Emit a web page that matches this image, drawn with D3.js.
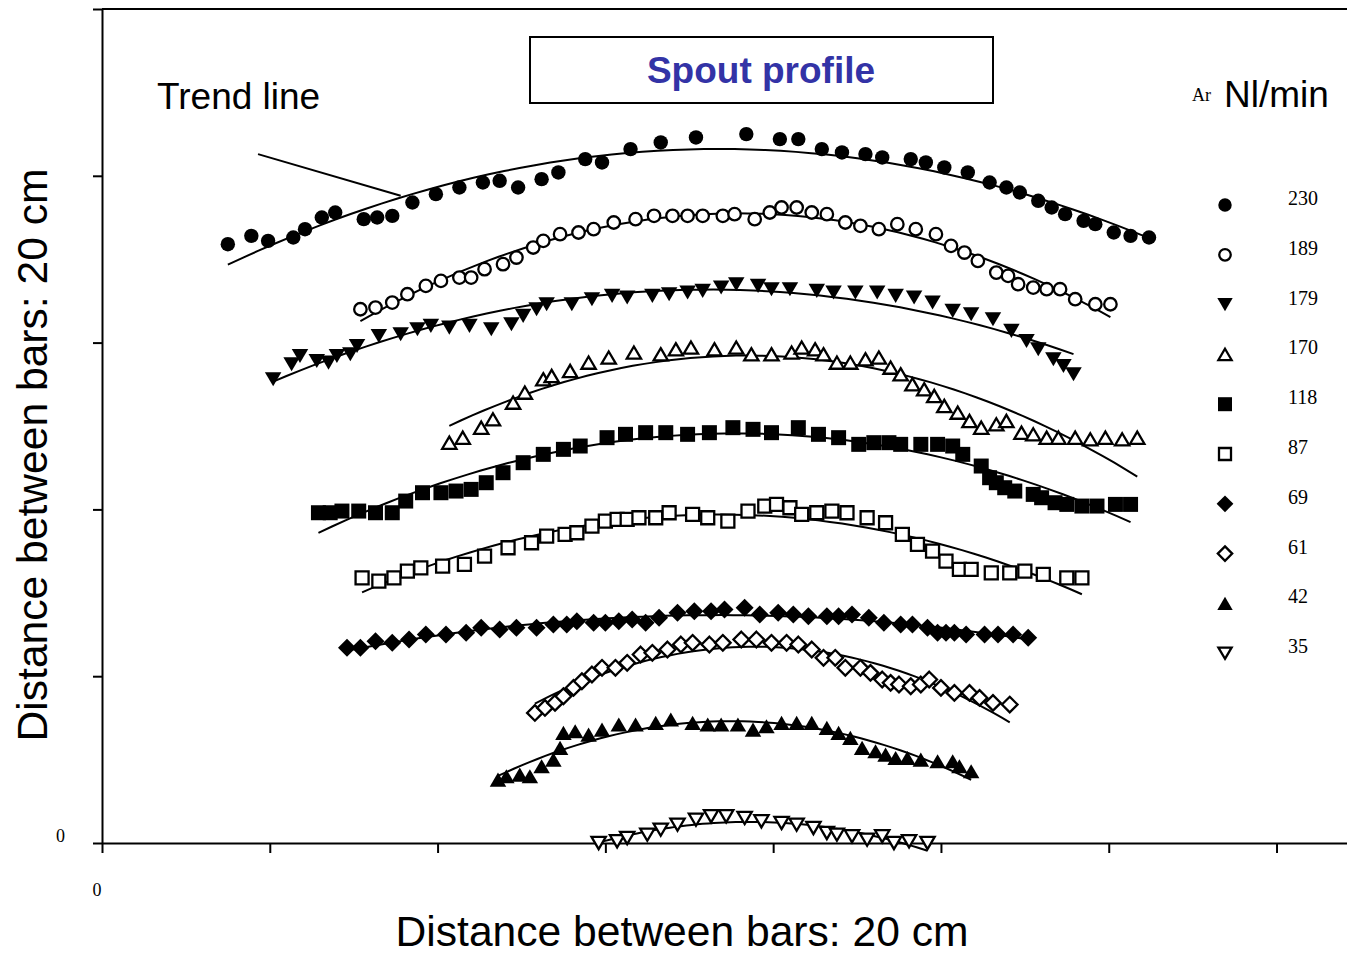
<!DOCTYPE html>
<html lang="en">
<head>
<meta charset="UTF-8">
<script src="https://d3js.org/d3.v7.min.js"></script>
<style>
    body { margin: 0; background: #fff; }
    .sans { font-family: "Liberation Sans", Arial, sans-serif; }
    .serif { font-family: "Liberation Serif", "Times New Roman", serif; }
</style>
</head>
<body>
<div id="chart"></div>
<script>
// Values; one axis tick = one unit (20 cm)
const seriesNames = ["230", "189", "179", "170", "118", "87", "69", "61", "42", "35"];

const x230 = [0.75,0.89,0.99,1.14,1.21,1.31,1.39,1.56,1.64,1.73,1.85,1.99,2.13,2.27,2.37,2.48,2.62,2.72,2.88,2.98,3.15,3.33,3.54,3.84,4.04,4.15,4.29,4.41,4.55,4.65,4.82,4.91,5.02,5.16,5.29,5.39,5.47,5.58,5.66,5.74,5.85,5.92,6.03,6.13,6.24];
const y230 = [3.59,3.64,3.61,3.63,3.68,3.75,3.78,3.74,3.75,3.76,3.84,3.89,3.93,3.96,3.97,3.93,3.98,4.02,4.10,4.08,4.16,4.20,4.23,4.25,4.22,4.22,4.16,4.14,4.13,4.11,4.10,4.08,4.05,4.02,3.96,3.93,3.90,3.85,3.81,3.77,3.73,3.71,3.66,3.64,3.63];

const x189 = [1.54,1.63,1.73,1.82,1.93,2.02,2.13,2.20,2.28,2.39,2.47,2.57,2.63,2.73,2.84,2.93,3.05,3.18,3.29,3.40,3.49,3.58,3.70,3.77,3.89,3.98,4.05,4.14,4.23,4.32,4.43,4.52,4.63,4.74,4.85,4.97,5.06,5.14,5.22,5.33,5.40,5.46,5.55,5.63,5.71,5.80,5.92,6.01];
const y189 = [3.20,3.21,3.24,3.29,3.34,3.37,3.39,3.39,3.44,3.47,3.51,3.57,3.61,3.65,3.66,3.68,3.72,3.74,3.76,3.76,3.76,3.76,3.76,3.77,3.74,3.78,3.81,3.81,3.78,3.77,3.72,3.70,3.68,3.71,3.68,3.65,3.58,3.54,3.49,3.42,3.40,3.35,3.33,3.32,3.32,3.26,3.23,3.23];

const x179 = [1.02,1.13,1.18,1.28,1.35,1.40,1.48,1.52,1.65,1.78,1.88,1.96,2.07,2.19,2.32,2.44,2.51,2.59,2.65,2.80,2.92,3.04,3.13,3.28,3.38,3.49,3.58,3.69,3.78,3.91,3.99,4.10,4.26,4.36,4.49,4.62,4.73,4.84,4.95,5.07,5.18,5.31,5.42,5.51,5.58,5.67,5.73,5.79];
const y179 = [2.78,2.87,2.92,2.89,2.88,2.92,2.93,2.98,3.04,3.05,3.08,3.10,3.09,3.10,3.08,3.11,3.16,3.20,3.23,3.23,3.26,3.28,3.27,3.28,3.29,3.30,3.31,3.33,3.35,3.34,3.32,3.32,3.31,3.30,3.30,3.30,3.28,3.27,3.24,3.19,3.17,3.14,3.07,3.01,2.96,2.90,2.86,2.81];

const x170 = [2.07,2.15,2.26,2.33,2.45,2.52,2.63,2.68,2.79,2.90,3.02,3.17,3.33,3.42,3.51,3.65,3.78,3.87,3.99,4.11,4.17,4.25,4.30,4.38,4.46,4.55,4.63,4.70,4.76,4.83,4.90,4.96,5.02,5.10,5.17,5.24,5.33,5.39,5.48,5.55,5.63,5.70,5.80,5.89,5.98,6.08,6.17];
const y170 = [2.40,2.43,2.49,2.54,2.64,2.70,2.78,2.80,2.83,2.88,2.91,2.94,2.93,2.96,2.97,2.96,2.97,2.93,2.93,2.94,2.97,2.96,2.93,2.88,2.88,2.90,2.91,2.85,2.81,2.75,2.72,2.68,2.62,2.58,2.53,2.49,2.51,2.53,2.46,2.45,2.43,2.43,2.43,2.42,2.43,2.42,2.43];

const x118 = [1.29,1.36,1.43,1.53,1.63,1.73,1.81,1.91,2.02,2.11,2.20,2.29,2.39,2.51,2.63,2.75,2.85,3.01,3.12,3.24,3.36,3.49,3.62,3.76,3.88,3.99,4.15,4.27,4.39,4.51,4.60,4.69,4.76,4.88,4.98,5.07,5.13,5.24,5.29,5.33,5.38,5.44,5.55,5.60,5.68,5.75,5.84,5.93,6.04,6.13];
const y118 = [1.98,1.98,1.99,1.99,1.98,1.98,2.05,2.10,2.10,2.11,2.12,2.16,2.22,2.28,2.33,2.36,2.38,2.43,2.45,2.46,2.46,2.45,2.46,2.49,2.48,2.46,2.49,2.45,2.43,2.39,2.40,2.40,2.39,2.39,2.39,2.38,2.33,2.26,2.19,2.16,2.13,2.11,2.09,2.07,2.04,2.03,2.02,2.02,2.03,2.03];

const x87 = [1.55,1.65,1.74,1.82,1.90,2.03,2.16,2.28,2.42,2.56,2.65,2.76,2.83,2.92,3.00,3.07,3.13,3.20,3.30,3.38,3.52,3.61,3.73,3.85,3.95,4.02,4.10,4.17,4.26,4.35,4.44,4.56,4.67,4.77,4.86,4.95,5.03,5.11,5.18,5.30,5.41,5.50,5.61,5.75,5.84];
const y87 = [1.59,1.57,1.59,1.63,1.65,1.66,1.67,1.72,1.77,1.80,1.84,1.85,1.86,1.90,1.93,1.94,1.94,1.95,1.95,1.98,1.97,1.95,1.93,1.99,2.02,2.03,2.01,1.97,1.98,1.99,1.98,1.95,1.92,1.85,1.79,1.75,1.69,1.64,1.64,1.62,1.62,1.63,1.61,1.59,1.59];

const x69 = [1.46,1.54,1.63,1.73,1.83,1.93,2.05,2.17,2.26,2.37,2.47,2.59,2.69,2.77,2.83,2.93,3.00,3.08,3.16,3.24,3.32,3.43,3.53,3.63,3.71,3.83,3.92,4.03,4.12,4.21,4.32,4.39,4.47,4.57,4.66,4.76,4.83,4.92,4.98,5.03,5.08,5.15,5.26,5.34,5.43,5.52];
const y69 = [1.17,1.17,1.21,1.20,1.22,1.25,1.25,1.26,1.29,1.28,1.29,1.29,1.31,1.31,1.33,1.32,1.32,1.33,1.34,1.32,1.35,1.38,1.39,1.39,1.40,1.41,1.37,1.38,1.37,1.36,1.36,1.36,1.37,1.35,1.32,1.31,1.31,1.29,1.26,1.26,1.26,1.25,1.25,1.25,1.25,1.23];

const x61 = [2.58,2.64,2.70,2.75,2.81,2.86,2.92,2.98,3.06,3.13,3.21,3.28,3.37,3.45,3.52,3.62,3.70,3.81,3.90,3.99,4.08,4.15,4.23,4.30,4.37,4.43,4.52,4.58,4.65,4.70,4.75,4.82,4.88,4.93,5.00,5.08,5.17,5.23,5.31,5.41];
const y61 = [0.78,0.81,0.84,0.88,0.93,0.97,1.01,1.05,1.05,1.08,1.13,1.14,1.16,1.19,1.20,1.19,1.20,1.22,1.22,1.20,1.20,1.19,1.16,1.11,1.11,1.05,1.05,1.02,0.98,0.96,0.95,0.94,0.95,0.98,0.93,0.90,0.90,0.87,0.84,0.83];

const x42 = [2.36,2.41,2.49,2.55,2.62,2.69,2.73,2.75,2.82,2.90,2.98,3.08,3.18,3.30,3.39,3.52,3.61,3.69,3.79,3.88,3.96,4.05,4.14,4.23,4.32,4.39,4.46,4.53,4.61,4.67,4.73,4.80,4.88,4.98,5.07,5.11,5.18];
const y42 = [0.38,0.40,0.41,0.40,0.46,0.50,0.57,0.66,0.67,0.65,0.68,0.71,0.71,0.72,0.74,0.72,0.71,0.71,0.71,0.68,0.70,0.72,0.72,0.72,0.69,0.66,0.63,0.57,0.55,0.53,0.51,0.51,0.50,0.49,0.49,0.46,0.43];

const x35 = [2.96,3.07,3.13,3.25,3.33,3.43,3.54,3.63,3.72,3.83,3.93,4.05,4.14,4.24,4.32,4.38,4.47,4.56,4.65,4.72,4.81,4.92];
const y35 = [0.00,0.01,0.03,0.05,0.08,0.11,0.14,0.16,0.16,0.15,0.13,0.12,0.11,0.09,0.06,0.05,0.04,0.02,0.04,0.00,0.01,0.00];

const xTicks = [0, 1, 2, 3, 4, 5, 6, 7];
const yTicks = [0, 1, 2, 3, 4, 5];

// marker style per series (kind, filled)
const markerKinds = ["circle", "circle", "down", "up", "square", "square", "diamond", "diamond", "up", "down"];
const markerFilled = [true, false, true, false, true, false, true, false, true, false];

const xsAll = [x230, x189, x179, x170, x118, x87, x69, x61, x42, x35];
const ysAll = [y230, y189, y179, y170, y118, y87, y69, y61, y42, y35];

const W = 1347, H = 955;
const svg = d3.select("#chart").append("svg")
    .attr("width", W).attr("height", H)
    .style("display", "block");

const x = d3.scaleLinear().domain([0, 7.42]).range([102, 1347]);
const y = d3.scaleLinear().domain([0, 5]).range([843, 9]);

// axes
svg.append("g")
    .attr("transform", `translate(0,${y(0)})`)
    .call(d3.axisBottom(x).tickValues(xTicks).tickSize(10).tickSizeOuter(0).tickFormat(""));
svg.append("g")
    .attr("transform", `translate(${x(0)},0)`)
    .call(d3.axisLeft(y).tickValues(yTicks).tickSize(9).tickSizeOuter(0).tickFormat(""));
svg.selectAll(".domain, .tick line").attr("stroke", "#000").attr("stroke-width", 2);

// top frame
svg.append("line")
    .attr("x1", x(0)).attr("x2", W)
    .attr("y1", y(5)).attr("y2", y(5))
    .attr("stroke", "#000").attr("stroke-width", 2);

svg.append("text").attr("class", "serif")
    .attr("x", 65).attr("y", y(0) - 1)
    .attr("text-anchor", "end").attr("font-size", 18)
    .text("0");
svg.append("text").attr("class", "serif")
    .attr("x", x(0) - 5).attr("y", 896)
    .attr("text-anchor", "middle").attr("font-size", 18)
    .text("0");

// axis titles
svg.append("text").attr("class", "sans")
    .attr("x", 682).attr("y", 946)
    .attr("text-anchor", "middle").attr("font-size", 42.6)
    .text("Distance between bars: 20 cm");
svg.append("text").attr("class", "sans")
    .attr("transform", "translate(47,455) rotate(-90)")
    .attr("text-anchor", "middle").attr("font-size", 42.6)
    .text("Distance between bars: 20 cm");

// title box
svg.append("rect")
    .attr("x", 530).attr("y", 37).attr("width", 463).attr("height", 66)
    .attr("fill", "none").attr("stroke", "#000").attr("stroke-width", 2);
svg.append("text").attr("class", "sans")
    .attr("x", 761).attr("y", 83)
    .attr("text-anchor", "middle").attr("font-size", 37).attr("font-weight", "bold")
    .attr("fill", "#3333a6")
    .text("Spout profile");

// trend line annotation
svg.append("text").attr("class", "sans")
    .attr("x", 157).attr("y", 109).attr("font-size", 37)
    .text("Trend line");
svg.append("line")
    .attr("x1", x(0.93)).attr("y1", y(4.13))
    .attr("x2", x(1.78)).attr("y2", y(3.88))
    .attr("stroke", "#000").attr("stroke-width", 2);

// marker shapes
const markerPath = (kind, s) => {
    if (kind === "circle") {
        const p = d3.path();
        p.arc(0, 0, s * 0.48, 0, 2 * Math.PI);
        return p.toString();
    }
    if (kind === "square") {
        const h = s * 0.5;
        return `M${-h},${-h}H${h}V${h}H${-h}Z`;
    }
    if (kind === "diamond") {
        const h = s * 0.6;
        return `M0,${-h}L${h},0L0,${h}L${-h},0Z`;
    }
    const w = s * 0.55, t = s * 0.47;
    if (kind === "up") return `M0,${-t}L${w},${t}L${-w},${t}Z`;
    return `M0,${t}L${w},${-t}L${-w},${-t}Z`;
};

const drawMarker = (g, i, s) => {
    const filled = markerFilled[i];
    g.append("path")
        .attr("d", markerPath(markerKinds[i], filled ? s : s - 2))
        .attr("fill", filled ? "#000" : "#fff")
        .attr("stroke", "#000")
        .attr("stroke-width", filled ? 0 : 2.3);
};

// least squares polynomial trend line
const polyfit = (xs, ys, deg) => {
    const n = deg + 1;
    const A = Array.from({ length: n }, () => new Array(n + 1).fill(0));
    xs.forEach((xv, k) => {
        for (let r = 0; r < n; r++) {
            for (let c = 0; c < n; c++) A[r][c] += Math.pow(xv, r + c);
            A[r][n] += ys[k] * Math.pow(xv, r);
        }
    });
    for (let c = 0; c < n; c++) {
        let piv = c;
        for (let r = c + 1; r < n; r++) if (Math.abs(A[r][c]) > Math.abs(A[piv][c])) piv = r;
        [A[c], A[piv]] = [A[piv], A[c]];
        for (let r = 0; r < n; r++) {
            if (r === c) continue;
            const f = A[r][c] / A[c][c];
            for (let k = c; k <= n; k++) A[r][k] -= f * A[c][k];
        }
    }
    const coef = A.map((row, r) => row[n] / row[r]);
    return v => coef.reduce((acc, cf, p) => acc + cf * Math.pow(v, p), 0);
};

const line = d3.line().x(d => x(d[0])).y(d => y(d[1]));

seriesNames.forEach((name, i) => {
    const xs = xsAll[i], ys = ysAll[i];
    const f = polyfit(xs, ys, 2);
    const x0 = d3.min(xs), x1 = d3.max(xs);
    const pts = d3.range(61).map(k => {
        const v = x0 + (x1 - x0) * k / 60;
        return [v, f(v)];
    });
    svg.append("path")
        .attr("d", line(pts))
        .attr("fill", "none")
        .attr("stroke", "#000")
        .attr("stroke-width", 2);

    xs.forEach((xv, k) => {
        const g = svg.append("g").attr("transform", `translate(${x(xv)},${y(ys[k])})`);
        drawMarker(g, i, 15);
    });
});

// legend
svg.append("text").attr("class", "serif")
    .attr("x", 1192).attr("y", 101).attr("font-size", 18)
    .text("Ar");
svg.append("text").attr("class", "sans")
    .attr("x", 1224).attr("y", 107).attr("font-size", 37)
    .text("Nl/min");

seriesNames.forEach((name, i) => {
    const ly = 205 + i * 49.8;
    const g = svg.append("g").attr("transform", `translate(1225,${ly})`);
    drawMarker(g, i, 14);
    svg.append("text").attr("class", "serif")
        .attr("x", 1288).attr("y", ly).attr("font-size", 20)
        .text(name);
});
</script>
</body>
</html>
